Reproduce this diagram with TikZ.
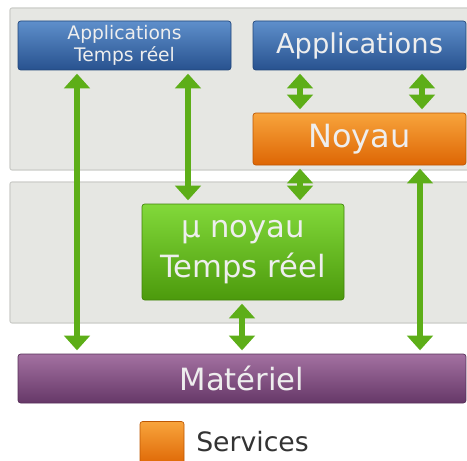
\documentclass[tikz,border=0pt]{standalone}
\usepackage{fontspec}
\setmainfont{DejaVu Sans}
\usetikzlibrary{arrows.meta}
\definecolor{panelfill}{HTML}{E6E7E3}
\definecolor{paneldraw}{HTML}{CCCDC9}
\definecolor{blueT}{HTML}{5E8FCB}
\definecolor{blueB}{HTML}{28528F}
\definecolor{orangeT}{HTML}{F8A43C}
\definecolor{orangeB}{HTML}{DE6604}
\definecolor{greenT}{HTML}{82D93A}
\definecolor{greenB}{HTML}{4C9A0C}
\definecolor{purpleT}{HTML}{A371A1}
\definecolor{purpleB}{HTML}{663868}
\definecolor{arrowgreen}{HTML}{5DAE18}
\definecolor{boxtext}{HTML}{EEEEEE}
\definecolor{legendtext}{HTML}{333333}
\tikzset{
  panel/.style={fill=panelfill, draw=paneldraw, line width=0.8pt, rounded corners=1.5pt},
  layerbox/.style={rounded corners=2pt, line width=0.5pt, text=boxtext, align=center, inner sep=0pt},
  bluebox/.style={layerbox, top color=blueT, bottom color=blueB, draw=blueB!85!black},
  orangebox/.style={layerbox, top color=orangeT, bottom color=orangeB, draw=orangeB!85!black},
  greenbox/.style={layerbox, top color=greenT, bottom color=greenB, draw=greenB!85!black},
  purplebox/.style={layerbox, top color=purpleT, bottom color=purpleB, draw=purpleB!85!black},
  link/.style={draw=arrowgreen, line width=4.5pt,
    {Triangle[width=19pt,length=11pt]}-{Triangle[width=19pt,length=11pt]},
    shorten <=2.5pt, shorten >=2.5pt},
}
\begin{document}
\begin{tikzpicture}[x=0.75pt, y=-0.75pt]
\useasboundingbox (0,0) rectangle (467,460);
% background panels
\draw[panel] (10,8) rectangle (480,170);
\draw[panel] (10,182) rectangle (480,323);
% layers
\node[bluebox, minimum width=159.75pt, minimum height=36.75pt,
      font=\fontsize{14}{17}\selectfont] (apprt) at (124.5,45.5) {Applications\\Temps réel};
\node[bluebox, minimum width=159.75pt, minimum height=36.75pt,
      font=\fontsize{20.5}{24}\selectfont] (app) at (359.5,45.5) {Applications};
\node[orangebox, minimum width=159.75pt, minimum height=39pt,
      font=\fontsize{24}{28}\selectfont] (noyau) at (359.5,139) {Noyau};
\node[greenbox, minimum width=151.5pt, minimum height=72pt,
      font=\fontsize{23}{30}\selectfont] (micro) at (243,252) {µ noyau\\Temps réel};
\node[purplebox, minimum width=336pt, minimum height=36.75pt,
      font=\fontsize{23}{28}\selectfont] (mat) at (242,378.5) {Matériel};
% legend
\node[orangebox, minimum width=33pt, minimum height=33pt] (legsq) at (162,443.5) {};
\node[anchor=west, text=legendtext, inner sep=0pt,
      font=\fontsize{20}{24}\selectfont] (legtxt) at (196,442) {Services};
% connectors
\draw[link] (apprt.south -| 77,0) -- (mat.north -| 77,0);
\draw[link] (apprt.south -| 188,0) -- (micro.north -| 188,0);
\draw[link] (app.south -| 300,0) -- (noyau.north -| 300,0);
\draw[link] (app.south -| 422,0) -- (noyau.north -| 422,0);
\draw[link] (noyau.south -| 300,0) -- (micro.north -| 300,0);
\draw[link] (micro.south -| 242,0) -- (mat.north -| 242,0);
\draw[link] (noyau.south -| 420,0) -- (mat.north -| 420,0);
\end{tikzpicture}
\end{document}
